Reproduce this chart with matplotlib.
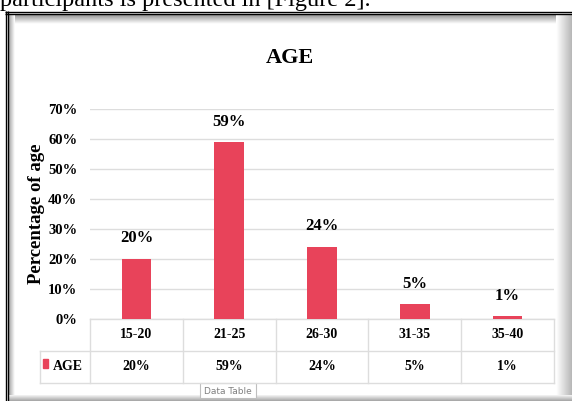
import numpy as np
import matplotlib
matplotlib.use("Agg")
import matplotlib.pyplot as plt
from matplotlib.patches import Rectangle
from matplotlib.transforms import blended_transform_factory

plt.rcParams['font.family'] = ['Liberation Serif', 'DejaVu Serif']

# data
categories = ['15-20', '21-25', '26-30', '31-35', '35-40']
values = [20, 59, 24, 5, 1]
series_name = 'AGE'
yticks = [0, 10, 20, 30, 40, 50, 60, 70]
ytick_labels = ['0%', '10%', '20%', '30%', '40%', '50%', '60%', '70%']

bar_color = '#E8435A'
grid_color = '#DDDDDD'
W, H = 572, 401

fig = plt.figure(figsize=(W / 100, H / 100), dpi=100)

# background layer in pixel coordinates (frame, caption text, title)
bg = fig.add_axes([0, 0, 1, 1])
bg.set_xlim(0, W)
bg.set_ylim(H, 0)
bg.axis('off')

# caption line of the document, cut at the top
bg.text(0, 6, 'participants is presented in [Figure 2].', fontsize=17.5,
        va='baseline', ha='left', color='black')

# frame shading
g = np.linspace(0.55, 1, 20).reshape(-1, 1)
bg.imshow(g, extent=[8, W, 24, 14], cmap='gray', vmin=0, vmax=1, aspect='auto')
g2 = np.linspace(0.6, 1, 20).reshape(1, -1)
bg.imshow(g2, extent=[8, 15, H, 14], cmap='gray', vmin=0, vmax=1, aspect='auto')
g3 = np.linspace(1, 0.72, 20).reshape(1, -1)
bg.imshow(g3, extent=[556, W, H, 14], cmap='gray', vmin=0, vmax=1, aspect='auto')
g4 = np.linspace(0.95, 0.65, 10).reshape(-1, 1)
bg.imshow(g4, extent=[8, W, H, 395], cmap='gray', vmin=0, vmax=1, aspect='auto')
bg.set_xlim(0, W)
bg.set_ylim(H, 0)

# black double border
for yy in (11.5, 13.5):
    bg.plot([5, W], [yy, yy], color='black', lw=1.0, solid_capstyle='butt')
for xx in (5.5, 7.5):
    bg.plot([xx, xx], [11, H], color='black', lw=1.0, solid_capstyle='butt')

# title
bg.text(290, 58, 'AGE', fontsize=16, fontweight='bold', ha='center', va='center')

# chart axes
ax = fig.add_axes([90 / W, 1 - 319 / H, 464 / W, 210 / H])
ax.patch.set_alpha(0)
x = np.arange(len(categories))
bars = ax.bar(x, values, width=0.32, color=bar_color, zorder=3)
ax.set_xlim(-0.5, len(categories) - 0.5)
ax.set_ylim(0, 70)
ax.set_yticks(yticks)
ax.set_yticklabels(ytick_labels, fontsize=10.5, fontweight='bold')
ax.set_xticks([])
ax.tick_params(axis='y', length=0, pad=9)
for s in ax.spines.values():
    s.set_visible(False)
ax.yaxis.grid(True, color=grid_color, lw=1)
ax.set_axisbelow(True)

for xi, v in zip(x, values):
    ax.annotate(f'{v}%', (xi, v), xytext=(0, 9), textcoords='offset points',
                ha='center', va='bottom', fontsize=12, fontweight='bold')

ax.set_ylabel('Percentage of age', fontsize=13.5, fontweight='bold')
ax.yaxis.set_label_coords(-0.097, 0.5)

# data table below the axis
tr = blended_transform_factory(ax.transData, ax.transAxes)
r1, r2 = -32 / 210, -64 / 210
for xi, c, v in zip(x, categories, values):
    ax.text(xi, -16 / 210, c, transform=tr, ha='center', va='center',
            fontsize=10, fontweight='bold', clip_on=False)
    ax.text(xi, -48 / 210, f'{v}%', transform=tr, ha='center', va='center',
            fontsize=10, fontweight='bold', clip_on=False)

lx = (40 - 90) / 464
line_kw = dict(transform=ax.transAxes, color=grid_color, lw=1, clip_on=False)
ax.plot([0, 1], [0, 0], **line_kw)
ax.plot([lx, 1], [r1, r1], **line_kw)
ax.plot([lx, 1], [r2, r2], **line_kw)
ax.plot([lx, lx], [r1, r2], **line_kw)
for k in range(len(categories) + 1):
    ax.plot([k / len(categories)] * 2, [0, r2], **line_kw)

# legend key + series name in the table
bg.add_patch(Rectangle((43, 359), 5, 9, color=bar_color))
bg.text(53, 367, series_name, fontsize=10, fontweight='bold', ha='left', va='center')

# "Data Table" tooltip
bg.add_patch(Rectangle((200, 383), 56, 15, facecolor='white', edgecolor='#BFBFBF', lw=0.8, zorder=5))
bg.text(228, 391, 'Data Table', fontsize=6.5, color='#808080', family='DejaVu Sans',
        ha='center', va='center', zorder=6)

fig.savefig('out.png', dpi=100)
